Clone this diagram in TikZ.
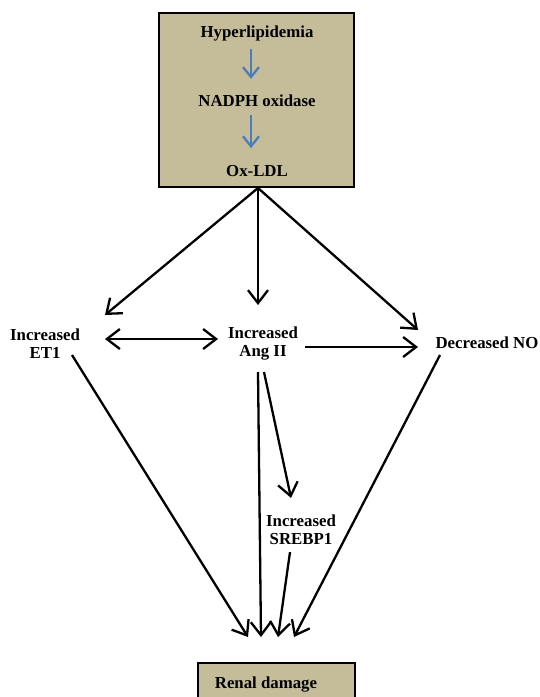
\documentclass[tikz,border=0pt]{standalone}
\usepackage{fontspec}
\setmainfont{Liberation Serif}
\usetikzlibrary{arrows.meta,calc}
\definecolor{tan}{HTML}{C5BD99}
\definecolor{blu}{HTML}{4A7EBB}
\tikzset{
  lbl/.style={font=\fontsize{16.8}{18}\selectfont\bfseries, align=center, inner sep=0pt},
  arr/.style={line width=2.3pt, -{Straight Barb[length=13pt,width=20pt,line width=2.3pt]}},
  darr/.style={line width=2.3pt, {Straight Barb[length=13pt,width=20pt,line width=2.3pt]}-{Straight Barb[length=13pt,width=20pt,line width=2.3pt]}},
  barr/.style={line width=2.3pt, draw=blu, -{Straight Barb[length=10pt,width=16pt,line width=2.3pt]}},
  tanbox/.style={draw=black, line width=2pt, fill=tan, inner sep=0pt}
}
\begin{document}
\begin{tikzpicture}[x=1pt,y=-1pt]
\useasboundingbox (0,0) rectangle (539,697);
% top box
\node[tanbox, minimum width=195pt, minimum height=174pt] (top) at (256.5,100) {};
\node[lbl] (hyp) at (257,33) {Hyperlipidemia};
\node[lbl] (nadph) at (257,101) {NADPH oxidase};
\node[lbl] (ox) at (257,171) {Ox-LDL};
\draw[barr] ($(hyp.south)+(-6,8)$) -- ($(nadph.north)+(-6,-16)$);
\draw[barr] ($(nadph.south)+(-6,8)$) -- ($(ox.north)+(-6,-17)$);
% middle nodes
\node[lbl] (et1) at (45,344) {Increased\\ET1};
\node[lbl] (ang) at (263,344) {Increased\\Ang II};
\node[lbl] (no) at (487,343) {Decreased NO};
\node[lbl] (srebp) at (301,530) {Increased\\SREBP1};
% renal box
\draw[tanbox] (198,663) rectangle (355,712);
\node[lbl] (renal) at (266,685) {Renal damage};
\coordinate (r1) at (248,637);
\coordinate (r2) at (261,637);
\coordinate (r3) at (278,637);
\coordinate (r4) at (294,637);
% arrows from Ox-LDL
\draw[arr] ($(top.south)+(1.5,0)$) -- ($(et1.center)+(60,-29)$);
\draw[arr] ($(top.south)+(1.5,0)$) -- ($(ang.center)+(-5,-39)$);
\draw[arr] ($(top.south)+(1.5,0)$) -- ($(no.center)+(-69,-13)$);
% middle row
\draw[darr] ($(et1.center)+(60,-5)$) -- ($(ang.center)+(-45,-5)$);
\draw[arr] ($(ang.center)+(42,3)$) -- ($(no.center)+(-69,4)$);
% to renal
\draw[arr] ($(et1.center)+(27,11)$) -- (r1);
\draw[arr] ($(ang.center)+(-5,28)$) -- (r2);
\draw[arr] ($(ang.center)+(1,28)$) -- ($(srebp.north)+(-10,-17)$);
\draw[arr] ($(srebp.south)+(-11,7)$) -- (r3);
\draw[arr] ($(no.center)+(-47,12)$) -- (r4);
\end{tikzpicture}
\end{document}
